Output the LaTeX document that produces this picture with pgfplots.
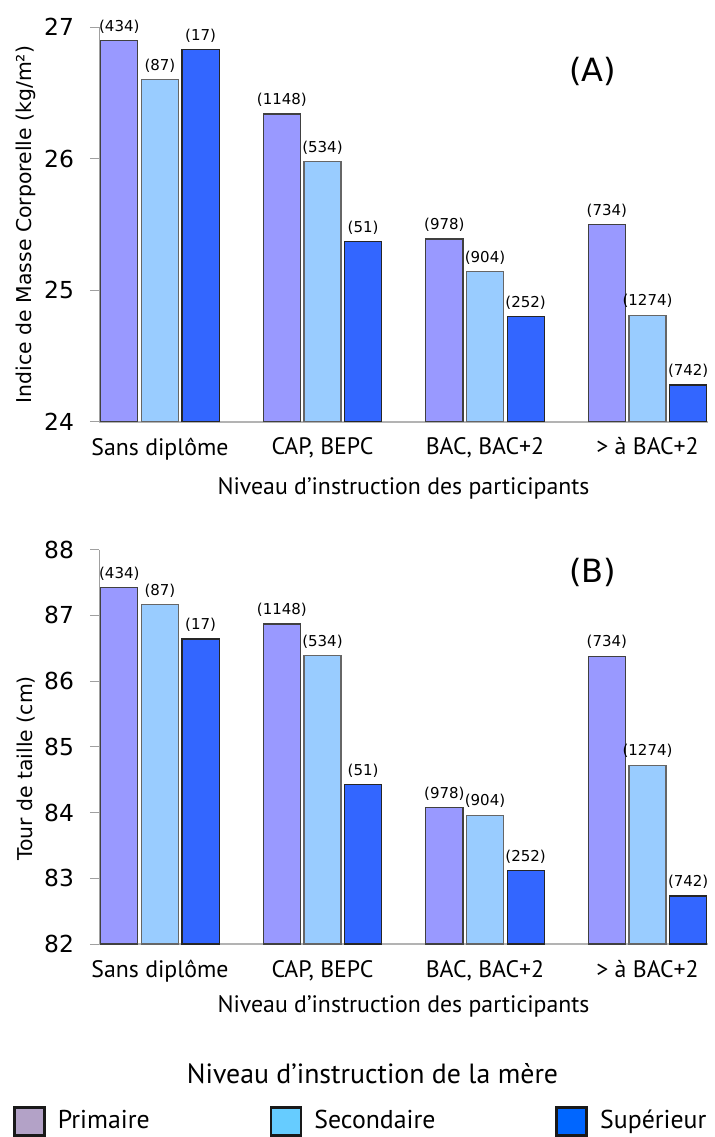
\documentclass[border=0pt]{standalone}
\usepackage{fontspec}
\setmainfont{DejaVu Sans}
\newfontfamily\pts{PT Sans}
\usepackage{pgfplots}
\usepackage{pgfplotstable}
\pgfplotsset{compat=1.18}

\definecolor{prim}{HTML}{9999FF}
\definecolor{sec}{HTML}{99CCFF}
\definecolor{sup}{HTML}{3366FF}
\definecolor{primL}{HTML}{B3A2C7}
\definecolor{secL}{HTML}{66CCFF}
\definecolor{supL}{HTML}{0066FF}
\definecolor{axgray}{HTML}{A0A0A0}

% (A) indice de masse corporelle
\pgfplotstableread{
x y n
0 26.90 434
1 26.34 1148
2 25.39 978
3 25.50 734
}\imcPrim
\pgfplotstableread{
x y n
0 26.60 87
1 25.98 534
2 25.14 904
3 24.81 1274
}\imcSec
\pgfplotstableread{
x y n
0 26.83 17
1 25.37 51
2 24.80 252
3 24.28 742
}\imcSup

% (B) tour de taille
\pgfplotstableread{
x y n
0 87.42 434
1 86.87 1148
2 84.08 978
3 86.38 734
}\ttPrim
\pgfplotstableread{
x y n
0 87.16 87
1 86.39 534
2 83.96 904
3 84.72 1274
}\ttSec
\pgfplotstableread{
x y n
0 86.64 17
1 84.43 51
2 83.12 252
3 82.73 742
}\ttSup

\pgfplotsset{
  panel/.style={
    scale only axis, width=304.5pt, height=197.2pt,
    xmin=-0.375, xmax=3.372,
    axis lines=left, axis line style={-, draw=axgray},
    x axis line style={line width=1pt, draw=axgray!80},
    ybar, bar width=0.228,
    xtick={0,1,2,3},
    xticklabels={Sans diplôme, {CAP, BEPC}, {BAC, BAC+2}, > à BAC+2},
    tick align=outside, major tick length=4.5pt,
    x tick style={draw=none}, y tick style={draw=axgray, line width=0.5pt},
    /pgf/number format/assume math mode=true,
    yticklabel style={font=\fontsize{11.7}{13}\selectfont, xshift=-4.5pt},
    xticklabel style={font=\pts\fontsize{11.9}{13}\selectfont},
    xlabel={Niveau d’instruction des participants},
    xlabel style={font=\pts\fontsize{11.9}{13}\selectfont},
    ylabel style={font=\fontsize{10.2}{12}\selectfont, at={(axis description cs:-0.12,0.5)}, anchor=center},
    point meta=explicit symbolic,
    nodes near coords={(\pgfplotspointmeta)},
    every node near coord/.append style={font=\fontsize{7.5}{8.5}\selectfont, black},
    clip mode=individual,
  },
  barP/.style={fill=prim, draw=black!75, line width=0.6pt, bar shift=-0.25},
  barS/.style={fill=sec, draw=black!60, line width=0.6pt, bar shift=0},
  barU/.style={fill=sup, draw=black!85, line width=0.6pt, bar shift=0.25},
  legbox/.style={legend image code/.code={\draw[##1] (0pt,-7pt) rectangle (15pt,7pt);},
    draw=black!90, line width=1.4pt},
}

\begin{document}
\begin{tikzpicture}
\path[use as bounding box] (0pt,0pt) rectangle (357.5pt,-568.5pt);

\begin{axis}[panel, at={(49.5pt,-210.85pt)}, anchor=south west,
  ymin=24, ymax=27, ytick={24,25,26,27},
  ylabel={Indice de Masse Corporelle (kg/m²)},
  xlabel style={at={(axis description cs:0.5,-0.17)}, anchor=center}]
\addplot[barP] table[x=x, y=y, meta=n] {\imcPrim};
\addplot[barS] table[x=x, y=y, meta=n] {\imcSec};
\addplot[barU] table[x=x, y=y, meta=n] {\imcSup};
\node[font=\fontsize{16}{18}\selectfont] at (axis description cs:0.811,0.887) {(A)};
\end{axis}

\begin{axis}[panel, at={(49.5pt,-472pt)}, anchor=south west,
  ymin=82, ymax=88, ytick={82,83,...,88},
  ylabel={Tour de taille (cm)},
  ylabel style={at={(axis description cs:-0.12,0.445)}},
  xlabel style={at={(axis description cs:0.5,-0.158)}, anchor=center},
  legend columns=3,
  legend cell align=left,
  legend style={at={(axis description cs:-0.1417,-0.449)}, anchor=west,
    draw=none, fill=none, inner sep=0pt,
    font=\pts\fontsize{12.9}{15}\selectfont,
    /tikz/every odd column/.append style={column sep=4pt},
    /tikz/every even column/.append style={column sep=58pt}},
  ]
\addplot[barP, forget plot] table[x=x, y=y, meta=n] {\ttPrim};
\addplot[barS, forget plot] table[x=x, y=y, meta=n] {\ttSec};
\addplot[barU, forget plot] table[x=x, y=y, meta=n] {\ttSup};
\node[font=\fontsize{16}{18}\selectfont] at (axis description cs:0.811,0.943) {(B)};
\addlegendimage{legbox, fill=primL}
\addlegendentry{Primaire}
\addlegendimage{legbox, fill=secL}
\addlegendentry{Secondaire}
\addlegendimage{legbox, fill=supL}
\addlegendentry{Supérieur}
\end{axis}

\node[font=\pts\fontsize{13.9}{16}\selectfont, anchor=base] at (186.25pt,-541.5pt) {Niveau d’instruction de la mère};
\end{tikzpicture}
\end{document}
